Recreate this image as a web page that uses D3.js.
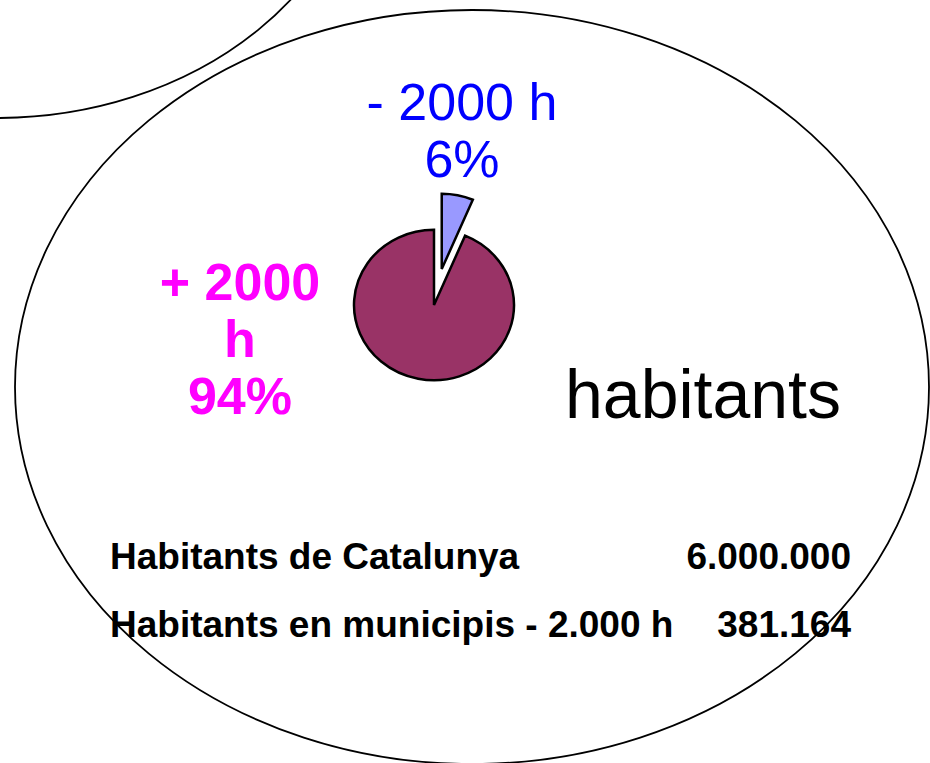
<!DOCTYPE html>
<html>
<head>
<meta charset="utf-8">
<script src="https://cdn.jsdelivr.net/npm/d3@7"></script>
<style>
  body { margin: 0; background: #fff; }
  svg { display: block; }
</style>
</head>
<body>
<div id="chart"></div>
<script>
// data
var categories = ["- 2000 h", "+ 2000 h"];
var population = [381164, 5618836];
var pctLabels = ["6%", "94%"];
var sliceColors = ["#9999FF", "#993366"];
var tableLabels = ["Habitants de Catalunya", "Habitants en municipis - 2.000 h"];
var tableValues = ["6.000.000", "381.164"];

var width = 930, height = 763;

var svg = d3.select("#chart").append("svg")
  .attr("width", width)
  .attr("height", height)
  .style("font-family", "'Liberation Sans', Arial, sans-serif");

// background ellipses
svg.append("ellipse")
  .attr("cx", -3).attr("cy", -182)
  .attr("rx", 369).attr("ry", 300)
  .attr("fill", "none").attr("stroke", "#000").attr("stroke-width", 1.8);

svg.append("ellipse")
  .attr("cx", 472).attr("cy", 387)
  .attr("rx", 457).attr("ry", 377)
  .attr("fill", "none").attr("stroke", "#000").attr("stroke-width", 1.8);

// pie (slightly flattened, like the original)
var cx = 434, cy = 305, r = 80, explode = 39;

var pie = d3.pie().sort(null);
var arc = d3.arc().innerRadius(0).outerRadius(r);
var arcs = pie(population);

var g = svg.append("g")
  .attr("transform", "translate(" + cx + "," + cy + ") scale(1,0.94)");

g.selectAll("path")
  .data(arcs)
  .enter().append("path")
  .attr("d", arc)
  .attr("transform", function(d, i) {
    if (i !== 0) return null;
    var a = (d.startAngle + d.endAngle) / 2;
    return "translate(" + (Math.sin(a) * explode) + "," + (-Math.cos(a) * explode) + ")";
  })
  .attr("fill", function(d, i) { return sliceColors[i]; })
  .attr("stroke", "#000")
  .attr("stroke-width", 2.5)
  .attr("vector-effect", "non-scaling-stroke")
  .attr("stroke-linejoin", "miter");

// slice labels
var small = svg.append("text")
  .attr("text-anchor", "middle")
  .attr("fill", "#0000FF")
  .attr("font-size", 52);
small.append("tspan").attr("x", 462).attr("y", 120).text(categories[0]);
small.append("tspan").attr("x", 462).attr("y", 177).text(pctLabels[0]);

var bigParts = ["+ 2000", "h", pctLabels[1]];
var big = svg.append("text")
  .attr("text-anchor", "middle")
  .attr("fill", "#FF00FF")
  .attr("font-size", 52)
  .attr("font-weight", "bold");
big.selectAll("tspan")
  .data(bigParts)
  .enter().append("tspan")
  .attr("x", 240)
  .attr("y", function(d, i) { return 300 + i * 57; })
  .text(function(d) { return d; });

svg.append("text")
  .attr("x", 565).attr("y", 418)
  .attr("font-size", 68)
  .attr("fill", "#000")
  .text("habitants");

// table
var rows = svg.append("g")
  .attr("font-size", 37)
  .attr("font-weight", "bold")
  .attr("fill", "#000");

rows.selectAll("text.lab")
  .data(tableLabels)
  .enter().append("text")
  .attr("class", "lab")
  .attr("x", 110)
  .attr("y", function(d, i) { return 569 + i * 68; })
  .text(function(d) { return d; });

rows.selectAll("text.val")
  .data(tableValues)
  .enter().append("text")
  .attr("class", "val")
  .attr("x", 851)
  .attr("text-anchor", "end")
  .attr("y", function(d, i) { return 569 + i * 68; })
  .text(function(d) { return d; });
</script>
</body>
</html>
